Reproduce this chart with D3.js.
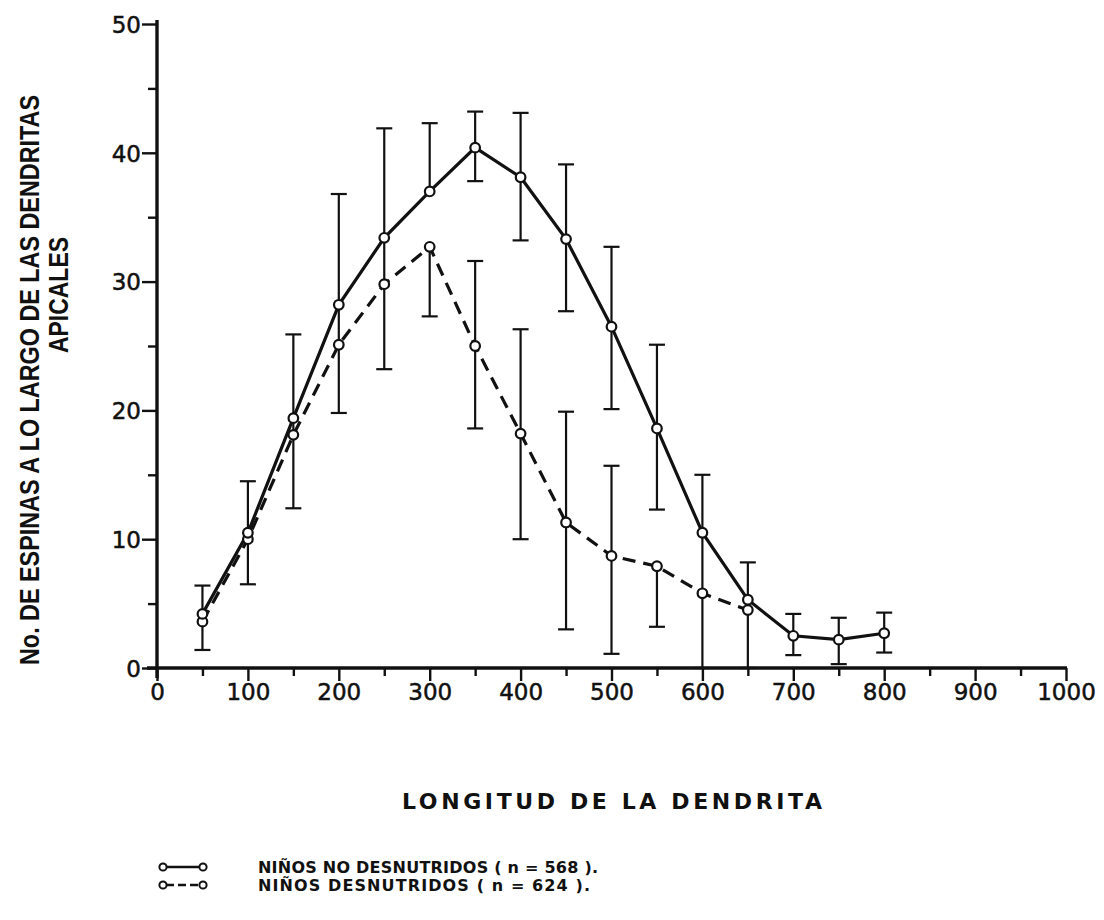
<!DOCTYPE html>
<html>
<head>
<meta charset="utf-8">
<script src="https://cdn.jsdelivr.net/npm/d3@7"></script>
<style>
  html, body { margin: 0; padding: 0; background: #fff; }
  svg { display: block; }
</style>
</head>
<body>
<svg id="chart" width="1104" height="920"></svg>
<script>
// ---------- DATA ----------
const xValues = [50, 100, 150, 200, 250, 300, 350, 400, 450, 500, 550, 600, 650, 700, 750, 800];

// Niños no desnutridos (solid line)
const normalMean = [4.2, 10.5, 19.4, 28.2, 33.4, 37.0, 40.4, 38.1, 33.3, 26.5, 18.6, 10.5, 5.3, 2.5, 2.2, 2.7];
const normalLow  = [1.4, 6.5, 12.4, 19.8, 23.2, null, 37.8, 33.2, 27.7, 20.1, 12.3, 0, 0, 1.0, 0.3, 1.2];
const normalHigh = [6.4, 14.5, 25.9, 36.8, 41.9, 42.3, 43.2, 43.1, 39.1, 32.7, 25.1, 15.0, 8.2, 4.2, 3.9, 4.3];

// Niños desnutridos (dashed line)
const xMalnourished = [50, 100, 150, 200, 250, 300, 350, 400, 450, 500, 550, 600, 650];
const malMean = [3.6, 10.0, 18.1, 25.1, 29.8, 32.7, 25.0, 18.2, 11.3, 8.7, 7.9, 5.8, 4.5];
const malLow  = [null, null, null, null, null, 27.3, 18.6, 10.0, 3.0, 1.1, 3.2, null, null];
const malHigh = [null, null, null, null, null, null, 31.6, 26.3, 19.9, 15.7, null, null, null];

const xTickLabels = ["0", "100", "200", "300", "400", "500", "600", "700", "800", "900", "1000"];
const yTickLabels = ["0", "10", "20", "30", "40", "50"];

const yTitle1 = "No. DE ESPINAS A LO LARGO DE LAS DENDRITAS";
const yTitle2 = "APICALES";
const xTitle = "LONGITUD DE LA DENDRITA";
const legendLabels = ["NIÑOS  NO DESNUTRIDOS ( n = 568 ).", "NIÑOS  DESNUTRIDOS  ( n = 624 )."];

// ---------- LAYOUT ----------
const svg = d3.select("#chart");
const ink = "#111";
const x = d3.scaleLinear().domain([0, 1000]).range([157, 1066]);
const y = d3.scaleLinear().domain([0, 50]).range([668, 24]);

// ---------- AXES ----------
const numFont = "'DejaVu Sans', sans-serif";

// y axis
const yAxis = d3.axisLeft(y)
  .tickValues(d3.range(0, 51, 5))
  .tickSize(0)
  .tickFormat("");
const gy = svg.append("g").attr("transform", `translate(${x(0)},0)`).call(yAxis);
gy.select(".domain").remove();
svg.append("line").attr("x1", x(0)).attr("x2", x(0)).attr("y1", y(50) - 4).attr("y2", y(0) + 10)
  .attr("stroke", ink).attr("stroke-width", 3.4);
gy.selectAll(".tick line")
  .attr("x2", d => d % 10 === 0 ? -15 : -9)
  .attr("stroke", ink).attr("stroke-width", 2.4);
gy.selectAll(".tick").filter(d => d % 10 === 0).append("text")
  .attr("x", -16).attr("dy", "0.36em").attr("text-anchor", "end")
  .attr("font-family", numFont).attr("font-size", 23).attr("fill", ink)
  .attr("stroke", ink).attr("stroke-width", 0.5)
  .text(d => yTickLabels[d / 10]);

// x axis
const xAxis = d3.axisBottom(x)
  .tickValues(d3.range(0, 1001, 50))
  .tickSize(0)
  .tickFormat("");
const gx = svg.append("g").attr("transform", `translate(0,${y(0)})`).call(xAxis);
gx.select(".domain").remove();
svg.append("line").attr("x1", x(0) - 10).attr("x2", x(1000) + 1).attr("y1", y(0)).attr("y2", y(0))
  .attr("stroke", ink).attr("stroke-width", 3.4);
gx.selectAll(".tick line")
  .attr("y2", d => d % 100 === 0 ? 13 : 8)
  .attr("stroke", ink).attr("stroke-width", 2.4);
gx.selectAll(".tick").filter(d => d % 100 === 0).append("text")
  .attr("y", 24).attr("dy", "0.36em").attr("text-anchor", "middle")
  .attr("font-family", numFont).attr("font-size", 23).attr("fill", ink)
  .attr("stroke", ink).attr("stroke-width", 0.5)
  .text(d => xTickLabels[d / 100]);

// ---------- TITLES ----------
const titleFont = "'Liberation Sans Narrow', 'Liberation Sans', Arial, sans-serif";
svg.append("text")
  .attr("transform", `translate(39,${(95 + 665) / 2}) rotate(-90)`)
  .attr("text-anchor", "middle")
  .attr("font-family", titleFont)
  .attr("font-weight", "bold").attr("font-size", 27).attr("fill", ink)
  .attr("textLength", 570).attr("lengthAdjust", "spacingAndGlyphs")
  .text(yTitle1);
svg.append("text")
  .attr("transform", `translate(68,295) rotate(-90)`)
  .attr("text-anchor", "middle")
  .attr("font-family", titleFont)
  .attr("font-weight", "bold").attr("font-size", 27).attr("fill", ink)
  .attr("textLength", 116).attr("lengthAdjust", "spacingAndGlyphs")
  .text(yTitle2);

svg.append("text")
  .attr("x", 402).attr("y", 809)
  .attr("font-family", "'DejaVu Sans', sans-serif")
  .attr("font-weight", "bold").attr("font-size", 22).attr("fill", ink)
  .attr("textLength", 420).attr("lengthAdjust", "spacing")
  .text(xTitle);

// ---------- ERROR BARS ----------
function drawErrors(xs, means, lows, highs) {
  const g = svg.append("g").attr("stroke", ink).attr("stroke-width", 2.2).attr("fill", "none");
  xs.forEach((xv, i) => {
    const lo = lows[i], hi = highs[i], m = means[i];
    if (lo === null && hi === null) return;
    const y1 = y(lo === null ? m : lo), y2 = y(hi === null ? m : hi);
    const cx = x(xv);
    g.append("line").attr("x1", cx).attr("x2", cx).attr("y1", y1).attr("y2", y2);
    if (lo !== null) g.append("line").attr("x1", cx - 8).attr("x2", cx + 8).attr("y1", y(lo)).attr("y2", y(lo));
    if (hi !== null) g.append("line").attr("x1", cx - 8).attr("x2", cx + 8).attr("y1", y(hi)).attr("y2", y(hi));
  });
}
drawErrors(xValues, normalMean, normalLow, normalHigh);
drawErrors(xMalnourished, malMean, malLow, malHigh);

// ---------- LINES ----------
const line = d3.line().x(d => x(d[0])).y(d => y(d[1]));
const normalPts = xValues.map((v, i) => [v, normalMean[i]]);
const malPts = xMalnourished.map((v, i) => [v, malMean[i]]);

svg.append("path").datum(malPts).attr("d", line)
  .attr("fill", "none").attr("stroke", ink).attr("stroke-width", 3.2)
  .attr("stroke-dasharray", "13,8");
svg.append("path").datum(normalPts).attr("d", line)
  .attr("fill", "none").attr("stroke", ink).attr("stroke-width", 3.2);

function drawPoints(pts) {
  svg.append("g").selectAll("circle").data(pts).join("circle")
    .attr("cx", d => x(d[0])).attr("cy", d => y(d[1])).attr("r", 4.8)
    .attr("fill", "#fff").attr("stroke", ink).attr("stroke-width", 2.2);
}
drawPoints(malPts);
drawPoints(normalPts);

// ---------- LEGEND ----------
const legendY = [867, 885];
legendLabels.forEach((lab, i) => {
  const ly = legendY[i];
  svg.append("line").attr("x1", 166).attr("x2", 200).attr("y1", ly).attr("y2", ly)
    .attr("stroke", ink).attr("stroke-width", 2.6)
    .attr("stroke-dasharray", i === 1 ? "8,4" : null);
  [163, 203].forEach(cx => svg.append("circle").attr("cx", cx).attr("cy", ly).attr("r", 3.6)
    .attr("fill", "#fff").attr("stroke", ink).attr("stroke-width", 2));
  svg.append("text").attr("x", 258).attr("y", ly).attr("dy", "0.36em")
    .attr("font-family", "'DejaVu Sans', sans-serif").attr("font-weight", "bold")
    .attr("font-size", 16).attr("fill", ink)
    .attr("textLength", i === 0 ? 340 : 332).attr("lengthAdjust", "spacing")
    .text(lab);
});
</script>
</body>
</html>
